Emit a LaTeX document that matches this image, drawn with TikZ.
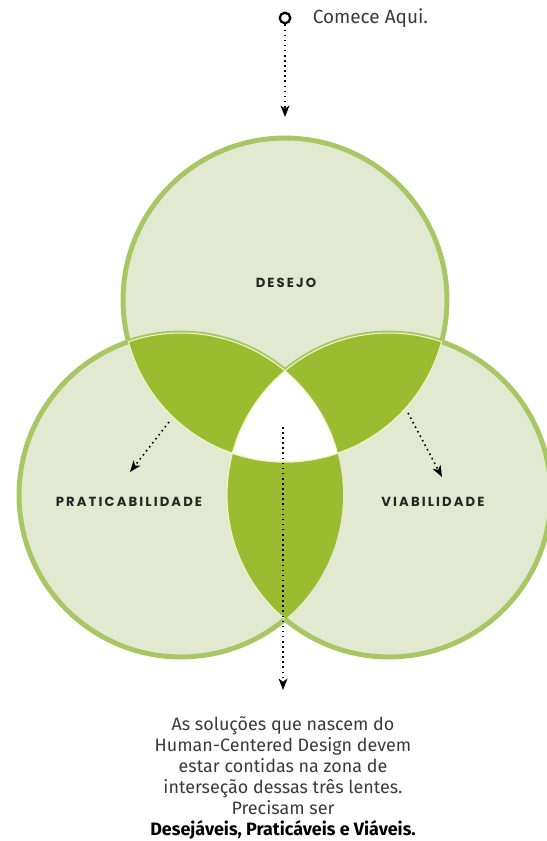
\documentclass[tikz,border=0pt]{standalone}
\usepackage{fontspec}
\setmainfont{Fira Sans}
\newfontfamily\labelfont[LetterSpace=16]{Poppins}
\usetikzlibrary{arrows.meta, positioning}

\definecolor{discfill}{HTML}{E2E9D0}
\definecolor{ringgreen}{HTML}{A8C664}
\definecolor{lensgreen}{HTML}{9BBB30}
\definecolor{seamcream}{HTML}{F2F7C8}
\definecolor{textgray}{HTML}{3A3A3A}

\def\circR{3.24cm}

\begin{document}
\begin{tikzpicture}[
    % 1 unit = 1 px of the reference, y pointing down
    x=0.02cm, y=-0.02cm,
    line width=0.6pt,
    font=\fontsize{10}{12}\selectfont,
    ringline/.style={draw=ringgreen, line width=2.8pt},
    seam/.style={draw=seamcream, line width=0.6pt},
    lenslabel/.style={font=\labelfont\bfseries\fontsize{7.5}{9}\selectfont, text=black!85},
    dotarrow/.style={line width=0.9pt, dash pattern=on 0.9pt off 2pt,
      -{Stealth[length=6.5pt, width=5pt, inset=1.8pt]}},
  ]
    \useasboundingbox (0,0) rectangle (547,841);
    \clip (0,0) rectangle (547,841);

    % --- circle centres ---
    \coordinate (T) at (285,300);
    \coordinate (L) at (181,495);
    \coordinate (R) at (389,495);

    % --- light discs with their rings ---
    \fill[discfill] (T) circle (\circR);
    \draw[ringline] (T) circle (\circR);
    \fill[discfill] (L) circle (\circR);
    \fill[discfill] (R) circle (\circR);
    \begin{scope}[even odd rule]
      \clip (R) circle (\circR) (-20,-20) rectangle (570,870);
      \draw[ringline] (L) circle (\circR);
    \end{scope}
    \begin{scope}[even odd rule]
      \clip (L) circle (\circR) (-20,-20) rectangle (570,870);
      \draw[ringline] (R) circle (\circR);
    \end{scope}

    % --- dark lenses ---
    \begin{scope}
      \clip (T) circle (\circR);
      \fill[lensgreen] (L) circle (\circR);
      \fill[lensgreen] (R) circle (\circR);
    \end{scope}
    \begin{scope}
      \clip (L) circle (\circR);
      \fill[lensgreen] (R) circle (\circR);
    \end{scope}

    % --- white centre ---
    \begin{scope}
      \clip (T) circle (\circR);
      \clip (L) circle (\circR);
      \fill[white] (R) circle (\circR);
    \end{scope}

    % --- thin seams ---
    \begin{scope}
      \clip (T) circle (\circR);
      \draw[seam] (L) circle (\circR);
      \draw[seam] (R) circle (\circR);
    \end{scope}
    \begin{scope}
      \clip (L) circle (\circR);
      \draw[seam] (T) circle (\circR);
      \draw[seam] (R) circle (\circR);
    \end{scope}
    \begin{scope}
      \clip (R) circle (\circR);
      \draw[seam] (T) circle (\circR);
    \end{scope}

    % --- labels ---
    \node[lenslabel] (desejo) at (286,283) {DESEJO};
    \node[lenslabel] (pratic) at (129,502) {PRATICABILIDADE};
    \node[lenslabel] (viab) at (433,502) {VIABILIDADE};

    % --- start marker ---
    \node[circle, draw=black, line width=1.3pt, minimum size=6pt, inner sep=0pt]
      (start) at (285,18) {};
    \node[right=0.3cm of start, text=textgray, font=\fontsize{10.8}{13}\selectfont]
      (comece) {Comece Aqui.};

    % --- dotted arrows ---
    \coordinate (topend) at (285,117);
    \coordinate (lstart) at (169,422);
    \coordinate (lend) at (130,472);
    \coordinate (rstart) at (408,413);
    \coordinate (rend) at (442,477);
    \coordinate (cstart) at (283,427);
    \coordinate (cend) at (283,690);
    \draw[dotarrow] (start) -- (topend);
    \draw[dotarrow] (lstart) -- (lend);
    \draw[dotarrow] (rstart) -- (rend);
    \draw[dotarrow] (cstart) -- (cend);

    % --- closing note ---
    \node[align=center, text=textgray, font=\fontsize{10.2}{12}\selectfont]
      (note) at (283,778) {As soluções que nascem do\\
      Human-Centered Design devem\\
      estar contidas na zona de\\
      interseção dessas três lentes.\\
      Precisam ser\\
      \textbf{\color{black}Desejáveis, Praticáveis e Viáveis.}};
  \end{tikzpicture}
\end{document}
